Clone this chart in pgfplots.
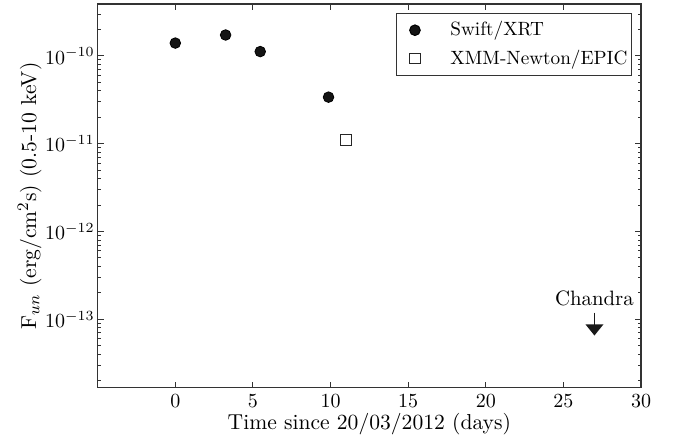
\documentclass[border=0pt]{standalone}
\usepackage{pgfplots}
\pgfplotsset{compat=1.18}
\pgfdeclareplotmark{uplimarrow}{%
  \pgfpathmoveto{\pgfpoint{0pt}{0pt}}%
  \pgfpathlineto{\pgfpoint{0pt}{-6.4pt}}%
  \pgfusepathqstroke
  \pgfpathmoveto{\pgfpoint{-3.7pt}{-6.2pt}}%
  \pgfpathlineto{\pgfpoint{3.7pt}{-6.2pt}}%
  \pgfpathlineto{\pgfpoint{0pt}{-10.8pt}}%
  \pgfpathclose
  \pgfusepathqfillstroke
}
\begin{document}
\begin{tikzpicture}
\begin{axis}[
  scale only axis,
  width=271.7pt, height=191.9pt,
  xmin=-5, xmax=30,
  ymode=log, ymin=1.66e-14, ymax=3.9e-10,
  xtick={0,5,10,15,20,25,30},
  tick align=inside,
  major tick length=3pt, minor tick length=1.6pt,
  axis line style={line width=0.6pt, black!80},
  every tick/.style={black!80, line width=0.5pt},
  yticklabel style={xshift=2pt},
  xlabel={Time since 20/03/2012 (days)},
  ylabel={F$_{un}$ (erg/cm$^2$s) (0.5-10 keV)},
  xlabel style={yshift=4pt, font=\fontsize{10.8}{13}\selectfont},
  ylabel style={yshift=-5pt, font=\fontsize{10.8}{13}\selectfont},
  legend cell align=left,
  legend style={at={(1,1)}, anchor=north east, xshift=-4.5pt, yshift=-4.5pt,
    draw=black!80, line width=0.5pt, inner xsep=0pt, inner ysep=2pt,
    row sep=1.5pt, font=\fontsize{9.6}{11.5}\selectfont},
  legend image code/.code={\path (0pt,0pt) (24.5pt,0pt);\draw[mark repeat=2,mark phase=2,#1] plot coordinates {(0pt,0pt) (9pt,0pt) (24.5pt,0pt)};},
]
\addplot[only marks, mark=*, mark size=2.65pt, draw=black, fill=black!92] coordinates {
  (0.0, 1.40e-10)
  (3.24, 1.73e-10)
  (5.47, 1.12e-10)
  (9.87, 3.39e-11)
};
\addlegendentry{Swift/XRT}
\addplot[only marks, mark=square, mark size=2.6pt, mark options={draw=black!85, line width=0.6pt, fill=white}] coordinates {
  (11.0, 1.10e-11)
};
\addlegendentry{XMM-Newton/EPIC}
\addplot[only marks, mark=uplimarrow, mark options={draw=black!90, fill=black!90, line width=0.8pt}, forget plot] coordinates {
  (27.0, 1.19e-13)
};
\node[anchor=base, yshift=3.4pt, font=\fontsize{10.4}{12.5}\selectfont] at (axis cs:27,1.19e-13) {Chandra};
\end{axis}
\path ([shift={(-48.85pt,-25.65pt)}]current axis.south west) rectangle ([shift={(17.5pt,2pt)}]current axis.north east);
\end{tikzpicture}
\end{document}
